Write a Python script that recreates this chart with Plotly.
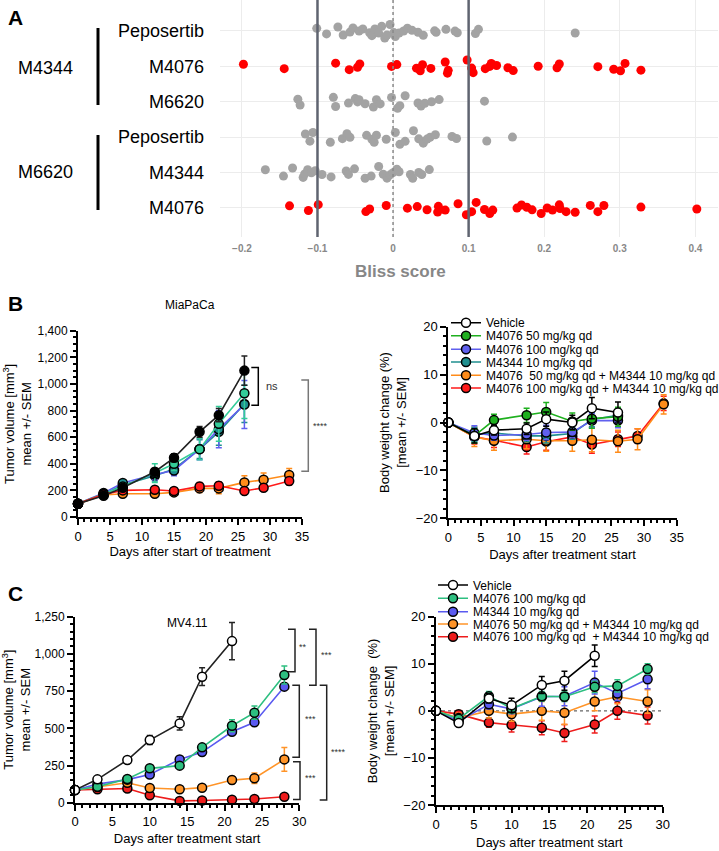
import plotly.graph_objects as go

W, H = 719, 851
FONT = "Liberation Sans, Arial, sans-serif"

# ---------------- Panel A data (Bliss scores) ----------------
bliss_row_labels = ["Peposertib", "M4076", "M6620", "Peposertib", "M4344", "M4076"]  # top -> bottom
bliss_group_labels = ["M4344", "M6620"]
bliss_pep_m4344 = [-0.101, -0.088, -0.073, -0.066, -0.057, -0.053, -0.045, -0.040, -0.031, -0.028, -0.024,
                   -0.019, -0.015, -0.011, -0.008, -0.004, 0.001, 0.003, 0.008, 0.014, 0.019, 0.025, 0.033,
                   0.040, 0.055, 0.057, 0.070, 0.082, 0.085, 0.109, 0.113, 0.241]
bliss_m4076_m4344 = [-0.198, -0.144, -0.076, -0.058, -0.047, -0.044, -0.002, 0.005, 0.031, 0.036, 0.039, 0.050,
                     0.069, 0.072, 0.073, 0.098, 0.104, 0.106, 0.122, 0.128, 0.130, 0.137, 0.152, 0.159, 0.192,
                     0.217, 0.220, 0.271, 0.292, 0.301, 0.307, 0.328]
bliss_m6620_m4344 = [-0.126, -0.123, -0.079, -0.076, -0.059, -0.050, -0.047, -0.045, -0.037, -0.026, -0.022,
                     -0.017, -0.002, 0.006, 0.009, 0.016, 0.033, 0.037, 0.042, 0.051, 0.061, 0.121]
bliss_pep_m6620 = [-0.116, -0.110, -0.106, -0.083, -0.067, -0.061, -0.057, -0.035, -0.028, -0.025, -0.022,
                   -0.009, 0.003, 0.009, 0.016, 0.027, 0.034, 0.040, 0.045, 0.049, 0.056, 0.078, 0.084, 0.124,
                   0.158]
bliss_m4344_m6620 = [-0.169, -0.145, -0.133, -0.119, -0.117, -0.113, -0.108, -0.103, -0.094, -0.082, -0.062,
                     -0.059, -0.051, -0.037, -0.029, -0.019, -0.013, -0.008, -0.004, 0.000, 0.005, 0.008, 0.023,
                     0.026, 0.034, 0.038, 0.048]
bliss_m4076_m6620 = [-0.137, -0.112, -0.099, -0.036, -0.031, -0.009, 0.019, 0.032, 0.045, 0.059, 0.060, 0.069,
                     0.086, 0.097, 0.104, 0.110, 0.121, 0.128, 0.132, 0.164, 0.170, 0.177, 0.184, 0.196, 0.204,
                     0.211, 0.220, 0.221, 0.229, 0.241, 0.261, 0.271, 0.279, 0.328, 0.402]
bliss_rows = [bliss_pep_m4344, bliss_m4076_m4344, bliss_m6620_m4344,
              bliss_pep_m6620, bliss_m4344_m6620, bliss_m4076_m6620]
bliss_synergy = [False, True, False, False, False, True]
bliss_thresholds = [-0.1, 0.1]

# ---------------- Panel B data (MiaPaCa) ----------------
b_days = [0, 4, 7, 12, 15, 19, 22, 26]
b_days_combo = [0, 4, 7, 12, 15, 19, 22, 26, 29, 33]
b_names = ["Vehicle", "M4076 50 mg/kg qd", "M4076 100 mg/kg qd", "M4344 10 mg/kg qd",
           "M4076  50 mg/kg qd + M4344 10 mg/kg qd", "M4076 100 mg/kg qd + M4344 10 mg/kg qd"]
b_tv_vehicle = [100, 160, 220, 340, 445, 640, 765, 1100]
b_tv_vehicle_err = [10, 20, 20, 25, 30, 40, 50, 110]
b_tv_m4076_50 = [100, 175, 230, 330, 400, 510, 700, 930]
b_tv_m4076_50_err = [10, 20, 25, 70, 50, 80, 130, 190]
b_tv_m4076_100 = [100, 180, 255, 320, 350, 510, 660, 845]
b_tv_m4076_100_err = [10, 20, 25, 40, 40, 80, 140, 180]
b_tv_m4344 = [100, 170, 240, 310, 360, 510, 640, 850]
b_tv_m4344_err = [10, 20, 25, 40, 40, 70, 100, 140]
b_tv_combo50 = [100, 165, 175, 175, 185, 215, 215, 260, 280, 315]
b_tv_combo50_err = [10, 20, 20, 25, 25, 30, 40, 50, 50, 50]
b_tv_combo100 = [100, 170, 200, 205, 195, 230, 235, 195, 220, 270]
b_tv_combo100_err = [10, 20, 20, 25, 25, 30, 30, 20, 25, 30]

b_bw_vehicle = [0, -2.8, -1.6, -1.3, 0.7, 0.0, 3.0, 2.1]
b_bw_vehicle_err = [0, 1.5, 1.0, 1.2, 1.5, 1.5, 2.2, 2.2]
b_bw_m4076_50 = [0, -2.8, 0.5, 1.5, 2.2, 0.2, 0.8, 1.2]
b_bw_m4076_50_err = [0, 1.5, 1.2, 1.5, 2.0, 1.8, 2.0, 2.0]
b_bw_m4076_100 = [0, -2.2, -2.7, -2.5, -2.1, -2.0, 0.4, 0.4]
b_bw_m4076_100_err = [0, 1.5, 1.0, 1.2, 1.5, 1.2, 1.5, 1.5]
b_bw_m4344 = [0, -2.5, -2.2, -2.8, -2.8, -2.3, 0.6, 1.5]
b_bw_m4344_err = [0, 1.5, 1.0, 1.2, 1.5, 1.2, 1.5, 1.5]
b_bw_combo50 = [0, -3.0, -3.8, -3.5, -3.8, -3.8, -3.6, -3.9, -3.5, 3.8]
b_bw_combo50_err = [0, 2.0, 2.0, 2.0, 2.2, 2.2, 2.5, 2.3, 2.2, 2.0]
b_bw_combo100 = [0, -3.0, -3.7, -5.1, -4.0, -3.0, -4.6, -3.5, -2.8, 4.0]
b_bw_combo100_err = [0, 1.5, 1.5, 1.5, 1.8, 1.5, 1.8, 1.5, 1.5, 1.5]

# ---------------- Panel C data (MV4.11) ----------------
c_days = [0, 3, 7, 10, 14, 17, 21, 24, 28]
c_days_vehicle = [0, 3, 7, 10, 14, 17, 21]
c_names = ["Vehicle", "M4076 100 mg/kg qd", "M4344 10 mg/kg qd",
           "M4076 50 mg/kg qd + M4344 10 mg/kg qd", "M4076 100 mg/kg qd  + M4344 10 mg/kg qd"]
c_tv_vehicle = [85, 157, 287, 421, 533, 847, 1086]
c_tv_vehicle_err = [5, 10, 15, 30, 45, 60, 125]
c_tv_m4076 = [85, 108, 159, 231, 249, 372, 517, 605, 858]
c_tv_m4076_err = [5, 8, 10, 15, 15, 25, 40, 45, 60]
c_tv_m4344 = [85, 125, 155, 190, 291, 340, 477, 540, 780]
c_tv_m4344_err = [5, 8, 10, 12, 15, 15, 20, 20, 20]
c_tv_combo50 = [85, 105, 134, 99, 90, 101, 152, 164, 291]
c_tv_combo50_err = [5, 8, 10, 10, 10, 12, 25, 35, 80]
c_tv_combo100 = [85, 90, 95, 50, 12, 15, 20, 25, 40]
c_tv_combo100_err = [5, 5, 8, 8, 5, 5, 5, 5, 8]

c_bw_vehicle = [0, -2.6, 2.65, 1.2, 5.5, 6.4, 11.7]
c_bw_vehicle_err = [0, 0.5, 1.0, 1.5, 1.8, 2.0, 2.3]
c_bw_m4076 = [0, -1.7, 3.1, 0.5, 3.1, 3.0, 5.1, 5.3, 8.9]
c_bw_m4076_err = [0, 0.8, 1.0, 1.0, 1.0, 1.0, 1.2, 1.3, 1.1]
c_bw_m4344 = [0, -2.2, 1.4, 0.4, 3.0, 3.1, 6.0, 3.7, 6.7]
c_bw_m4344_err = [0, 0.8, 1.0, 1.0, 2.0, 2.0, 2.4, 1.5, 2.0]
c_bw_combo50 = [0, -1.5, 0.0, -0.7, 0.0, -0.4, 2.0, 3.0, 2.0]
c_bw_combo50_err = [0, 1.0, 1.5, 1.5, 2.0, 2.5, 2.0, 1.5, 2.5]
c_bw_combo100 = [0, -0.7, -2.5, -3.0, -3.6, -4.7, -2.9, 0.0, -1.0]
c_bw_combo100_err = [0, 0.8, 1.0, 1.5, 1.5, 1.8, 1.8, 1.8, 1.8]

# significance brackets: (label, y_low, y_high)
b_sig = [("ns", 840, 1124), ("****", 344, 1029)]
c_sig = [("**", 880, 1165), ("***", 790, 1165), ("***", 305, 790), ("***", 22, 275), ("****", 18, 790)]

# ---------------- helpers ----------------
def pxx(x):
    return x / W


def pxy(y):
    return 1 - y / H


fig = go.Figure()

# ----- Panel A -----
GRAY_DOT = "#a3a3a3"
RED_DOT = "#ff0000"
n_rows = len(bliss_rows)
row_pos = [n_rows - 1 - i for i in range(n_rows)]
for pos, vals, syn in zip(row_pos, bliss_rows, bliss_synergy):
    fig.add_trace(go.Box(
        x=vals, y0=pos, orientation="h", boxpoints="all", jitter=1, pointpos=0, width=0.42,
        marker=dict(color=RED_DOT if syn else GRAY_DOT, size=9),
        line=dict(color="rgba(0,0,0,0)", width=0), fillcolor="rgba(0,0,0,0)",
        hoverinfo="x", showlegend=False, xaxis="x", yaxis="y"))


def add_series(xa, ya, x, y, err, color, name, fill=None, legend=None, lw=1.6):
    fig.add_trace(go.Scatter(
        x=x, y=y, mode="lines+markers", name=name, xaxis=xa, yaxis=ya,
        line=dict(color=color, width=lw),
        marker=dict(size=9, color=fill if fill else color, line=dict(color="black", width=1.5)),
        error_y=dict(type="data", array=err, color=color, thickness=1.5, width=3),
        cliponaxis=False, showlegend=legend is not None, legend=legend if legend else "legend"))


# B colors
B_GREEN_L, B_BLUE, B_TEAL, ORANGE, RED = "#33cc99", "#6060ee", "#1f8f8f", "#ff8c1a", "#ff1a1a"
B_GREEN = "#1fb01f"

# ----- Panel B left (tumor volume) -----
add_series("x2", "y2", b_days, b_tv_m4344, b_tv_m4344_err, B_TEAL, b_names[3])
add_series("x2", "y2", b_days, b_tv_m4076_100, b_tv_m4076_100_err, B_BLUE, b_names[2], fill=B_TEAL)
add_series("x2", "y2", b_days, b_tv_m4076_50, b_tv_m4076_50_err, B_GREEN_L, b_names[1], fill=B_GREEN_L)
add_series("x2", "y2", b_days_combo, b_tv_combo50, b_tv_combo50_err, ORANGE, b_names[4])
add_series("x2", "y2", b_days_combo, b_tv_combo100, b_tv_combo100_err, RED, b_names[5])
add_series("x2", "y2", b_days, b_tv_vehicle, b_tv_vehicle_err, "#222222", b_names[0], fill="black")

# ----- Panel B right (body weight) -----
b_leg = ["legend", "legend2", "legend3", "legend4", "legend5", "legend6"]
add_series("x3", "y3", b_days_combo, b_bw_combo100, b_bw_combo100_err, RED, b_names[5], legend=b_leg[5])
add_series("x3", "y3", b_days_combo, b_bw_combo50, b_bw_combo50_err, ORANGE, b_names[4], legend=b_leg[4])
add_series("x3", "y3", b_days, b_bw_m4344, b_bw_m4344_err, B_TEAL, b_names[3], legend=b_leg[3])
add_series("x3", "y3", b_days, b_bw_m4076_100, b_bw_m4076_100_err, B_BLUE, b_names[2], legend=b_leg[2])
add_series("x3", "y3", b_days, b_bw_m4076_50, b_bw_m4076_50_err, B_GREEN, b_names[1], legend=b_leg[1])
add_series("x3", "y3", b_days, b_bw_vehicle, b_bw_vehicle_err, "black", b_names[0], fill="white", legend=b_leg[0])

# C colors
C_GREEN, C_BLUE, C_ORANGE, C_RED = "#2dbf80", "#5a5af0", "#ff9428", "#ee1c1c"

# ----- Panel C left -----
add_series("x4", "y4", c_days, c_tv_combo100, c_tv_combo100_err, C_RED, c_names[4])
add_series("x4", "y4", c_days, c_tv_combo50, c_tv_combo50_err, C_ORANGE, c_names[3])
add_series("x4", "y4", c_days, c_tv_m4344, c_tv_m4344_err, C_BLUE, c_names[2])
add_series("x4", "y4", c_days, c_tv_m4076, c_tv_m4076_err, C_GREEN, c_names[1])
add_series("x4", "y4", c_days_vehicle, c_tv_vehicle, c_tv_vehicle_err, "#222222", c_names[0], fill="white")

# ----- Panel C right -----
c_leg = ["legend7", "legend8", "legend9", "legend10", "legend11"]
add_series("x5", "y5", c_days, c_bw_combo100, c_bw_combo100_err, C_RED, c_names[4], legend=c_leg[4])
add_series("x5", "y5", c_days, c_bw_combo50, c_bw_combo50_err, C_ORANGE, c_names[3], legend=c_leg[3])
add_series("x5", "y5", c_days, c_bw_m4344, c_bw_m4344_err, C_BLUE, c_names[2], legend=c_leg[2])
add_series("x5", "y5", c_days, c_bw_m4076, c_bw_m4076_err, C_GREEN, c_names[1], legend=c_leg[1])
add_series("x5", "y5", c_days_vehicle, c_bw_vehicle, c_bw_vehicle_err, "black", c_names[0], fill="white", legend=c_leg[0])

# ---------------- axes ----------------
XTICKFONT = dict(family=FONT, size=13, color="black")
YTICKFONT = dict(family=FONT, size=12, color="black")
TITLEFONT = dict(family=FONT, size=13, color="black")


def prism_axis(domain, anchor, rng, dtick, minor_dtick, title, standoff, fmt=None, tickfont=XTICKFONT):
    d = dict(domain=domain, anchor=anchor, range=rng, dtick=dtick, tick0=0,
             showline=True, linecolor="black", linewidth=2, ticks="outside", ticklen=6, tickwidth=2,
             tickcolor="black", showgrid=False, zeroline=False, tickfont=tickfont,
             minor=dict(ticks="outside", ticklen=3, tickwidth=1.5, tickcolor="black", dtick=minor_dtick,
                        tick0=0, showgrid=False),
             title=dict(text=title, font=TITLEFONT, standoff=standoff))
    if fmt:
        d["tickformat"] = fmt
    return d


dom_a_x = [pxx(220), pxx(718)]
dom_a_y = [pxy(237), pxy(0)]
dom_bl_x, dom_bl_y = [pxx(78), pxx(302)], [pxy(517), pxy(330.7)]
dom_br_x, dom_br_y = [pxx(448.3), pxx(676.7)], [pxy(518.3), pxy(326.7)]
dom_cl_x, dom_cl_y = [pxx(75), pxx(299.3)], [pxy(802.7), pxy(616.7)]
dom_cr_x, dom_cr_y = [pxx(436), pxx(662.7)], [pxy(805), pxy(616.7)]

fig.update_layout(
    xaxis=dict(domain=dom_a_x, anchor="y", range=[-0.229, 0.430], dtick=0.1, tick0=0,
               showgrid=True, gridcolor="#ececec", gridwidth=1, zeroline=False, showline=False,
               tickfont=dict(family=FONT, size=10, color="#888888", weight="bold"), ticks="",
               ticklabelstandoff=4),
    yaxis=dict(domain=dom_a_y, anchor="x", range=[-0.82, 5.87], tickvals=row_pos,
               ticktext=bliss_row_labels, showgrid=True, gridcolor="#ececec", zeroline=False,
               showline=False, ticks="", ticklabelstandoff=15,
               tickfont=dict(family=FONT, size=18, color="black")),
    xaxis2=prism_axis(dom_bl_x, "y2", [0, 35], 5, 1, "Days after start of treatment", 4),
    yaxis2=prism_axis(dom_bl_y, "x2", [0, 1400], 200, 50,
                      "Tumor volume [mm<sup>3</sup>]<br>mean +/- SEM", 3, fmt=",", tickfont=YTICKFONT),
    xaxis3=prism_axis(dom_br_x, "y3", [0, 35], 5, 1, "Days after treatment start", 6),
    yaxis3=prism_axis(dom_br_y, "x3", [-20, 20], 10, 2,
                      "Body weight change (%)<br>[mean +/- SEM]", 6, tickfont=XTICKFONT),
    xaxis4=prism_axis(dom_cl_x, "y4", [0, 30], 5, 1, "Days after treatment start", 6),
    yaxis4=prism_axis(dom_cl_y, "x4", [0, 1250], 250, 50,
                      "Tumor volume [mm<sup>3</sup>]<br>mean +/- SEM", 4, fmt=",", tickfont=YTICKFONT),
    xaxis5=prism_axis(dom_cr_x, "y5", [0, 30], 5, 1, "Days after treatment start", 7),
    yaxis5=prism_axis(dom_cr_y, "x5", [-20, 20], 10, 2,
                      "Body weight change  (%)<br>[mean +/- SEM]", 6, tickfont=XTICKFONT),
)

# ---------------- legends (one per entry to get tight spacing) ----------------
b_leg_y = [322.7, 335.7, 349.3, 362, 375.3, 388]
c_leg_y = [585, 598.3, 611.7, 624, 636.7]
leg_common = dict(xanchor="left", yanchor="middle", bgcolor="rgba(0,0,0,0)", borderwidth=0,
                  font=dict(family=FONT, size=12, color="black"), itemwidth=30, tracegroupgap=0)
legends = {}
for key, yy in zip(b_leg, b_leg_y):
    legends[key] = dict(x=pxx(446), y=pxy(yy), **leg_common)
for key, yy in zip(c_leg, c_leg_y):
    legends[key] = dict(x=pxx(433), y=pxy(yy), **leg_common)
fig.update_layout(**legends)

# ---------------- shapes ----------------
shapes = []
for t in bliss_thresholds:
    shapes.append(dict(type="line", xref="x", yref="y domain", x0=t, x1=t, y0=0, y1=1,
                       line=dict(color="#5f6470", width=2.5), layer="above"))
shapes.append(dict(type="line", xref="x", yref="y domain", x0=0, x1=0, y0=0, y1=1,
                   line=dict(color="#8a8a8a", width=1.5, dash="dot"), layer="above"))
# group bars
shapes.append(dict(type="line", xref="paper", yref="paper", x0=pxx(98), x1=pxx(98), y0=pxy(28), y1=pxy(105),
                   line=dict(color="black", width=3)))
shapes.append(dict(type="line", xref="paper", yref="paper", x0=pxx(98), x1=pxx(98), y0=pxy(135), y1=pxy(210),
                   line=dict(color="black", width=3)))
# dotted zero line in C right
shapes.append(dict(type="line", xref="x5", yref="y5", x0=0, x1=30, y0=0, y1=0,
                   line=dict(color="#666666", width=1.2, dash="dot"), layer="below"))


def bracket(xpx, lo, hi, yref, color, tick=7, width=1.5):
    return dict(type="path", xref="paper", yref=yref,
                path=f"M {pxx(xpx - tick)},{lo} L {pxx(xpx)},{lo} L {pxx(xpx)},{hi} L {pxx(xpx - tick)},{hi}",
                line=dict(color=color, width=width))


annotations = []
# Panel B left brackets
b_br_x = [258.3, 308.3]
b_br_col = ["black", "#777777"]
b_lab_x = [272, 320]
for (lab, lo, hi), bx, col, lx in zip(b_sig, b_br_x, b_br_col, b_lab_x):
    shapes.append(bracket(bx, lo, hi, "y2", col))
    annotations.append(dict(text=lab, xref="paper", yref="y2", x=pxx(lx), y=(lo + hi) / 2,
                            xanchor="center", yanchor="middle", showarrow=False,
                            font=dict(family=FONT, size=11 if lab == "ns" else 9, color="#333333")))
# Panel C left brackets
c_br_x = [295, 316, 299.3, 300, 326.7]
c_lab_x = [303, 326, 310.7, 310.7, 338]
c_lab_y = [1044, 992, 560, 163, 343]
for (lab, lo, hi), bx, lx, ly in zip(c_sig, c_br_x, c_lab_x, c_lab_y):
    shapes.append(bracket(bx, lo, hi, "y4", "#222222"))
    annotations.append(dict(text=lab, xref="paper", yref="y4", x=pxx(lx), y=ly,
                            xanchor="center", yanchor="middle", showarrow=False,
                            font=dict(family=FONT, size=9, color="#333333")))

# text annotations
def txt(text, x, y, size, bold=False, color="black", xanchor="center"):
    annotations.append(dict(text=f"<b>{text}</b>" if bold else text, xref="paper", yref="paper",
                            x=pxx(x), y=pxy(y), xanchor=xanchor, yanchor="middle", showarrow=False,
                            font=dict(family=FONT, size=size, color=color)))


txt("A", 6, 17, 21, bold=True, xanchor="left")
txt("B", 6, 303, 21, bold=True, xanchor="left")
txt("C", 6, 593, 21, bold=True, xanchor="left")
txt(bliss_group_labels[0], 45, 68, 18)
txt(bliss_group_labels[1], 45, 172, 18)
txt("Bliss score", 400, 271, 17, bold=True, color="#878787")
txt("MiaPaCa", 190, 305, 12)
txt("MV4.11", 187, 623, 12)

fig.update_layout(shapes=shapes, annotations=annotations,
                  width=W, height=H, margin=dict(l=0, r=0, t=0, b=0, autoexpand=False),
                  template="none", plot_bgcolor="white", paper_bgcolor="white",
                  font=dict(family=FONT, size=12, color="black"), boxmode="overlay")

fig.write_html("out.html", config={"displayModeBar": False},
               post_script="document.body.style.margin='0';document.body.style.overflow='hidden';")
